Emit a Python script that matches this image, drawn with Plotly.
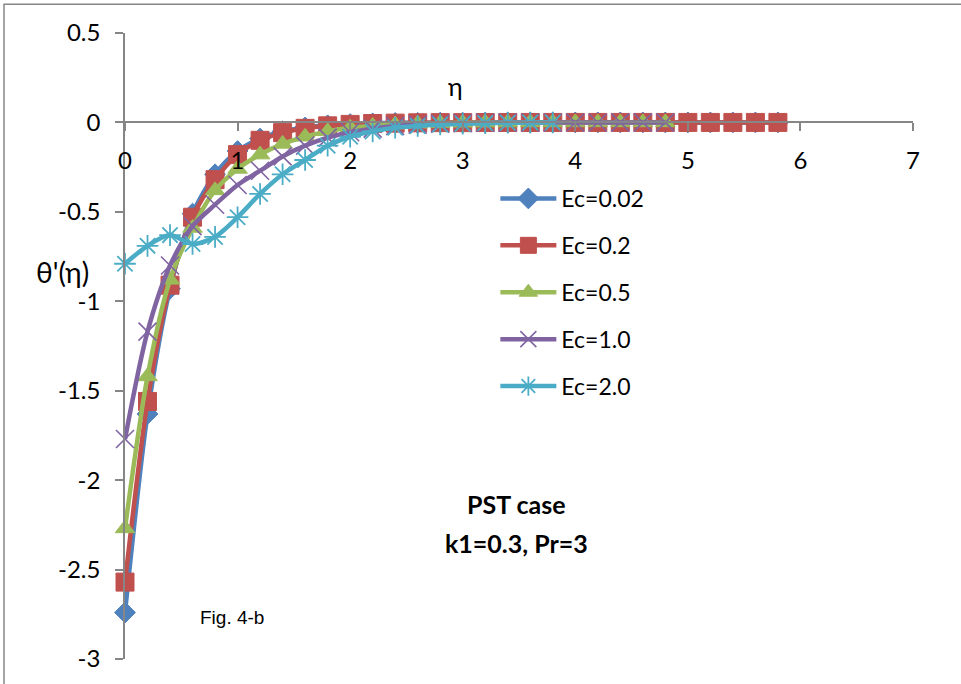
import plotly.graph_objects as go

# eta values (step 0.2)
eta_long = [0.0, 0.2, 0.4, 0.6, 0.8, 1.0, 1.2, 1.4, 1.6, 1.8, 2.0, 2.2, 2.4, 2.6, 2.8,
            3.0, 3.2, 3.4, 3.6, 3.8, 4.0, 4.2, 4.4, 4.6, 4.8, 5.0, 5.2, 5.4, 5.6, 5.8]
eta_mid = eta_long[:25]
eta_short = eta_long[:20]

ec_002 = [-2.74, -1.63, -0.93, -0.51, -0.29, -0.16, -0.09, -0.05, -0.028, -0.016,
          -0.009, -0.005, -0.003, -0.002, -0.001, -0.001, -0.0005, -0.0003, -0.0002, -0.0001,
          0.0, 0.0, 0.0, 0.0, 0.0, 0.0, 0.0, 0.0, 0.0, 0.0]
ec_02 = [-2.57, -1.56, -0.91, -0.53, -0.32, -0.18, -0.10, -0.057, -0.033, -0.019,
         -0.011, -0.006, -0.004, -0.002, -0.001, -0.001, -0.0005, -0.0003, -0.0002, -0.0001,
         0.0, 0.0, 0.0, 0.0, 0.0, 0.0, 0.0, 0.0, 0.0, 0.0]
ec_05 = [-2.27, -1.42, -0.88, -0.59, -0.38, -0.26, -0.18, -0.12, -0.08, -0.05,
         -0.03, -0.02, -0.012, -0.007, -0.004, -0.002, -0.001, -0.0005, -0.0003, -0.0002,
         -0.0001, 0.0, 0.0, 0.0, 0.0]
ec_10 = [-1.77, -1.17, -0.80, -0.58, -0.46, -0.35, -0.27, -0.19, -0.13, -0.085,
         -0.055, -0.035, -0.02, -0.012, -0.007, -0.004, -0.002, -0.001, -0.0005, -0.0003,
         -0.0002, -0.0001, 0.0, 0.0, 0.0]
ec_20 = [-0.79, -0.69, -0.63, -0.68, -0.64, -0.53, -0.40, -0.29, -0.21, -0.13,
         -0.08, -0.05, -0.03, -0.02, -0.012, -0.007, -0.004, -0.002, -0.001, 0.0]

names = ["Ec=0.02", "Ec=0.2", "Ec=0.5", "Ec=1.0", "Ec=2.0"]
colors = ["#4F81BD", "#C0504D", "#9BBB59", "#8064A2", "#4BACC6"]

ytick_vals = [0.5, 0, -0.5, -1, -1.5, -2, -2.5, -3]
ytick_text = ["0.5", "0", "-0.5", "-1", "-1.5", "-2", "-2.5", "-3"]
xtick_vals = [0, 1, 2, 3, 4, 5, 6, 7]
xtick_text = ["0", "1", "2", "3", "4", "5", "6", "7"]

series = [
    (eta_long, ec_002, dict(symbol="diamond", size=16, line=dict(width=1, color=colors[0]))),
    (eta_long, ec_02, dict(symbol="square", size=18, line=dict(width=1, color=colors[1]))),
    (eta_mid, ec_05, dict(symbol="triangle-up", size=17, line=dict(width=1, color=colors[2]))),
    (eta_mid, ec_10, dict(symbol="x-thin-open", size=18, line=dict(width=1.6, color=colors[3]))),
    (eta_short, ec_20, dict(symbol="asterisk-open", size=18, line=dict(width=1.8, color=colors[4]))),
]

fig = go.Figure()
for i, (xs, ys, mk) in enumerate(series):
    mk = dict(mk)
    mk["color"] = colors[i]
    fig.add_trace(go.Scatter(
        x=xs, y=ys, name=names[i], mode="lines+markers",
        line=dict(color=colors[i], width=4.5, shape="spline", smoothing=0.8),
        marker=mk, legendgroup=names[i], cliponaxis=False,
    ))

font_main = "Lato, 'Open Sans', sans-serif"

fig.update_layout(
    width=961, height=684,
    margin=dict(l=125, r=48, t=33, b=20),
    paper_bgcolor="white", plot_bgcolor="white",
    font=dict(family=font_main, size=18, color="#000000"),
    showlegend=True,
    legend=dict(x=0.47, y=0.77, xanchor="left", yanchor="top",
                font=dict(family=font_main, size=23, color="#000000"),
                traceorder="grouped", tracegroupgap=14, itemwidth=56,
                bgcolor="rgba(0,0,0,0)"),
    xaxis=dict(range=[0, 7], tickvals=xtick_vals, ticktext=xtick_text,
               showgrid=False, zeroline=False, showline=True,
               linecolor="#868686", linewidth=1.5,
               ticks="outside", ticklen=8, tickwidth=1.5, tickcolor="#868686",
               anchor="free", position=3 / 3.5, ticklabelstandoff=9,
               tickfont=dict(family=font_main, size=24)),
    yaxis=dict(range=[-3, 0.5], tickvals=ytick_vals, ticktext=ytick_text,
               showgrid=False, zeroline=False, showline=True,
               linecolor="#868686", linewidth=1.5,
               ticks="outside", ticklen=8, tickwidth=1.5, tickcolor="#868686",
               ticklabelstandoff=10,
               tickfont=dict(family=font_main, size=24), domain=[0, 1]),
)

def note(text, px, py, size, family=font_main):
    fig.add_annotation(text=text, xref="paper", yref="paper",
                       x=(px - 125) / 788, y=(664 - py) / 631,
                       xanchor="center", yanchor="middle",
                       showarrow=False, font=dict(family=family, size=size, color="#000000"))

note("η", 455, 86, 25)
note("θ'(η)", 62, 274, 28)
note("<b>PST case</b>", 516, 508, 25)
note("<b>k1=0.3, Pr=3</b>", 516, 547, 25)
note("Fig. 4-b", 232, 622, 19, "Liberation Sans, Arial, sans-serif")

# outer chart border
fig.add_shape(type="rect", xref="paper", yref="paper",
              x0=(4 - 125) / 788, x1=1.2, y0=-0.2, y1=(664 - 4) / 631,
              line=dict(color="#868686", width=1.5), fillcolor="rgba(0,0,0,0)", layer="below")

fig.write_html("out.html")
